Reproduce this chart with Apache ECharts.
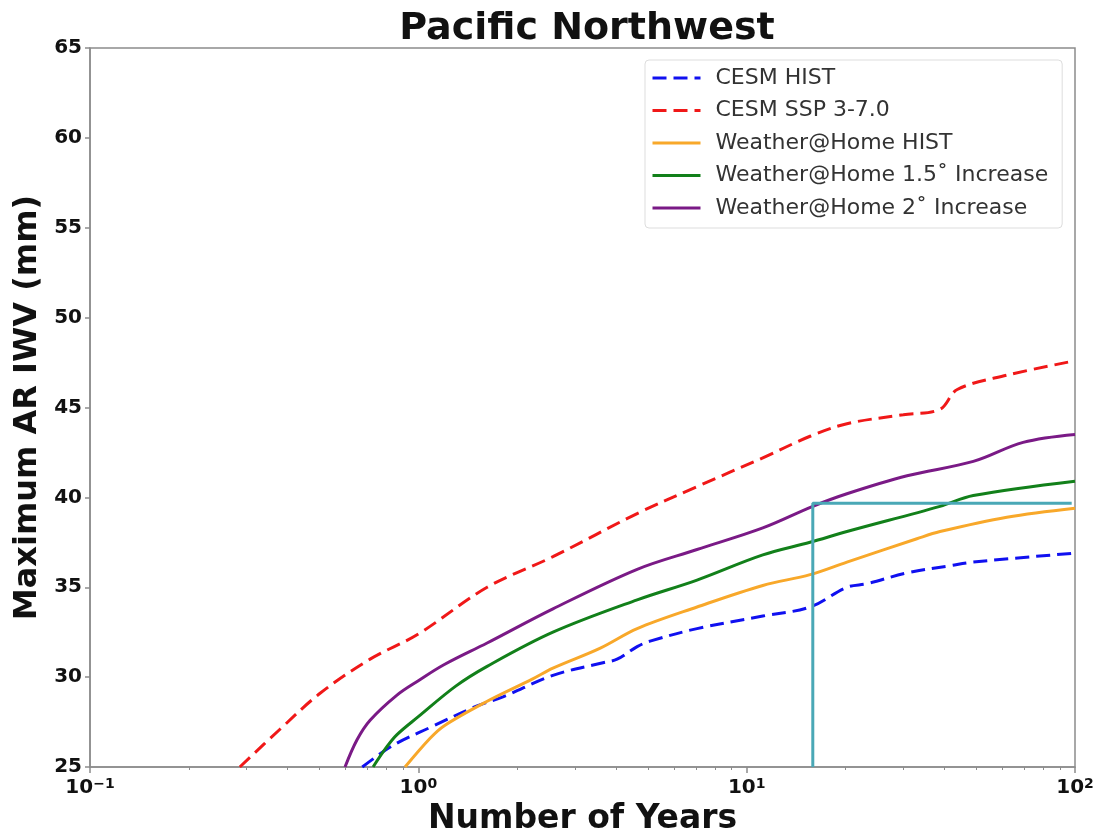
<!DOCTYPE html>
<html>
<head>
<meta charset="utf-8">
<script src="https://cdn.jsdelivr.net/npm/echarts@6/dist/echarts.min.js"></script>
<style>
  html, body { margin: 0; padding: 0; background: #fff; }
  #chart { width: 1101px; height: 833px; }
</style>
</head>
<body>
<div id="chart"></div>
<script>
// [years, IWV mm] pairs
const cesmHist = [
  [0.675, 25], [0.837, 26.2], [1.086, 27.2], [1.51, 28.4], [1.81, 28.9],
  [2.57, 30.1], [3.65, 30.8], [4.03, 31.0], [4.64, 31.7], [5.08, 32.0],
  [7.06, 32.7], [11.2, 33.4], [15.6, 33.9], [20.2, 35.0], [23.3, 35.2],
  [30.8, 35.8], [41.7, 36.2], [49, 36.4], [100, 36.9]
]
const cesmSsp = [
  [0.286, 25], [0.379, 27.1], [0.502, 29.1], [0.713, 31.0], [1.0, 32.4],
  [1.62, 35.0], [2.57, 36.7], [4.64, 39.1], [7.06, 40.6], [11.2, 42.2],
  [15.6, 43.4], [20.2, 44.1], [30, 44.6], [38.8, 44.9], [43.8, 46.0],
  [62.1, 46.8], [100, 47.6]
]
const wahHist = [
  [0.911, 25], [1.086, 26.6], [1.2, 27.3], [1.6, 28.6], [2.23, 29.9],
  [2.57, 30.5], [3.57, 31.6], [4.64, 32.7], [7.06, 33.9], [11.2, 35.1],
  [15.6, 35.7], [20.2, 36.4], [33, 37.7], [38.8, 38.1], [62, 38.9], [100, 39.4]
]
const wah15 = [
  [0.728, 25], [0.80, 26.1], [0.861, 26.8], [1.0, 27.8], [1.3, 29.5],
  [1.62, 30.6], [2.57, 32.5], [4.64, 34.3], [7.06, 35.4], [11.2, 36.8],
  [15.6, 37.5], [20.2, 38.1], [38.8, 39.5], [49, 40.1], [100, 40.9]
]
const wah2 = [
  [0.598, 25], [0.65, 26.5], [0.713, 27.6], [0.861, 29.0], [1.0, 29.8], [1.2, 30.7],
  [1.62, 31.9], [2.57, 33.8], [4.64, 36.0], [7.06, 37.1], [11.2, 38.3],
  [15.9, 39.5], [20.2, 40.2], [30.8, 41.2], [49, 42.0], [69.5, 43.06], [100, 43.5]
]
const guide = [[15.9, 25], [15.9, 39.67], [97.7, 39.67]]

const seriesNames = [
  'CESM HIST', 'CESM SSP 3-7.0', 'Weather@Home HIST',
  'Weather@Home 1.5˚ Increase', 'Weather@Home 2˚ Increase'
]
const minorTicks = [0.2, 0.3, 0.4, 0.5, 0.6, 0.7, 0.8, 0.9, 2, 3, 4, 5, 6, 7, 8, 9, 20, 30, 40, 50, 60, 70, 80, 90]

const font = 'DejaVu Sans'
const axisGray = '#8c8c8c'
const dash = [14, 7]

const line = (name, data, color, type) => ({
  name, type: 'line', data,
  xAxisIndex: 0, yAxisIndex: 0,
  symbol: 'none', smooth: 0.35,
  lineStyle: { color, width: 3, type },
  itemStyle: { color },
  z: 3
})

const chart = echarts.init(document.getElementById('chart'))
chart.setOption({
  animation: false,
  backgroundColor: '#fff',
  title: {
    text: 'Pacific Northwest',
    left: 582, textAlign: 'center', top: 5,
    textStyle: { fontFamily: font, fontWeight: 'bold', fontSize: 38, color: '#111' }
  },
  grid: {
    left: 90, right: 26, top: 48, bottom: 66,
    outerBoundsMode: 'none',
    show: true, borderColor: axisGray, borderWidth: 1.5
  },
  legend: {
    orient: 'vertical',
    left: 645, top: 60,
    data: seriesNames,
    itemWidth: 48, itemHeight: 14, itemGap: 10.5,
    padding: [7, 14, 9, 6],
    borderColor: '#dddddd', borderWidth: 1, borderRadius: 4,
    backgroundColor: '#fff',
    itemStyle: { opacity: 0 },
    lineStyle: { width: 3 },
    textStyle: { fontFamily: font, fontSize: 22, color: '#333', padding: [0, 0, 0, 10] }
  },
  xAxis: [
    {
      type: 'log', logBase: 10, min: 0.1, max: 100,
      name: 'Number of Years', nameLocation: 'middle', nameGap: 31,
      nameTextStyle: { fontFamily: font, fontWeight: 'bold', fontSize: 33, color: '#111' },
      axisLine: { lineStyle: { color: axisGray, width: 1.5 } },
      axisTick: { inside: false, length: 6, lineStyle: { color: axisGray, width: 1.5 } },
      splitLine: { show: false },
      axisLabel: {
        margin: 10,
        formatter: v => '10{s|' + String(Math.round(Math.log10(v))).replace('-', '−') + '}',
        fontFamily: font, fontWeight: 'bold', fontSize: 20, color: '#111',
        rich: { s: { fontFamily: font, fontWeight: 'bold', fontSize: 14, color: '#111', verticalAlign: 'top', padding: [0, 0, 8, 0] } }
      }
    },
    {
      type: 'log', logBase: 10, min: 0.1, max: 100, gridIndex: 0,
      position: 'bottom',
      axisLine: { show: false },
      axisLabel: { show: false },
      splitLine: { show: false },
      axisTick: { customValues: minorTicks, length: 3, lineStyle: { color: axisGray, width: 1 } }
    }
  ],
  yAxis: {
    type: 'value', min: 25, max: 65, interval: 5,
    name: 'Maximum AR IWV (mm)', nameLocation: 'middle', nameGap: 42,
    nameTextStyle: { fontFamily: font, fontWeight: 'bold', fontSize: 32, color: '#111' },
    axisLine: { show: true, lineStyle: { color: axisGray, width: 1.5 } },
    axisTick: { show: true, length: 5, lineStyle: { color: axisGray, width: 1.5 } },
    splitLine: { show: false },
    axisLabel: { margin: 8, fontFamily: font, fontWeight: 'bold', fontSize: 20, color: '#111' }
  },
  series: [
    line(seriesNames[0], cesmHist, '#1010f0', dash),
    line(seriesNames[1], cesmSsp, '#f01818', dash),
    line(seriesNames[2], wahHist, '#f8a82a', 'solid'),
    line(seriesNames[3], wah15, '#12801a', 'solid'),
    line(seriesNames[4], wah2, '#7a1a86', 'solid'),
    {
      name: 'guide', type: 'line', data: guide,
      symbol: 'none', silent: true,
      lineStyle: { color: '#4aa8b6', width: 3 },
      z: 4
    }
  ]
})
</script>
</body>
</html>
